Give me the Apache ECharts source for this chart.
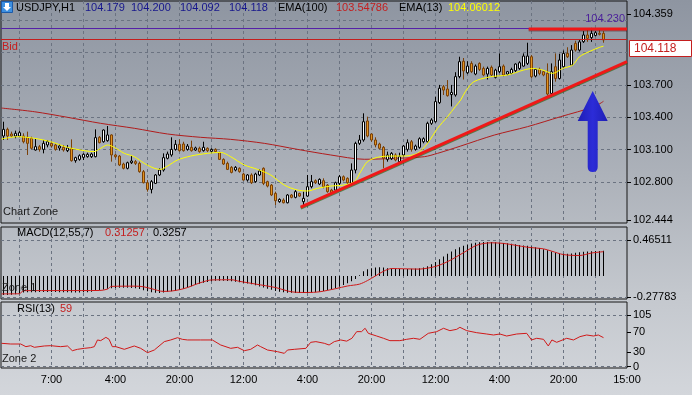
<!DOCTYPE html>
<html><head><meta charset="utf-8">
<script src="https://cdn.jsdelivr.net/npm/echarts@6/dist/echarts.min.js"></script>
<style>
html,body{margin:0;padding:0;}
body{width:692px;height:395px;overflow:hidden;background:linear-gradient(180deg,#8e95a1 0%,#adb2ba 45%,#c4c8ce 75%,#d3d6db 100%);}
#c{width:692px;height:395px;}
</style></head><body><div id="c"></div>
<script>
// ---- DATA ----
// candles: [open, close, low, high], one row per hourly bar
const candles = [
[103.225,103.287,103.188,103.358],[103.287,103.225,103.188,103.303],[103.244,103.225,103.213,103.266],[103.225,103.250,103.204,103.275],
[103.225,103.256,103.213,103.275],[103.225,103.172,103.157,103.250],[103.213,103.157,103.049,103.266],[103.204,103.111,103.101,103.219],
[103.095,103.126,103.089,103.204],[103.126,103.101,103.080,103.142],[103.101,103.157,103.064,103.188],[103.142,103.172,103.120,103.188],
[103.157,103.132,103.120,103.172],[103.142,103.101,103.089,103.157],[103.114,103.132,103.089,103.151],[103.120,103.095,103.080,103.142],
[103.089,103.114,103.076,103.142],[103.111,102.996,102.987,103.194],[102.996,103.024,102.977,103.033],[103.008,103.042,102.996,103.055],
[103.027,103.055,103.002,103.064],[103.033,103.055,103.024,103.070],[103.033,103.058,103.021,103.070],[103.033,103.210,103.027,103.287],
[103.213,103.163,103.157,103.225],[103.172,103.281,103.163,103.287],[103.182,103.235,103.172,103.318],[103.235,103.049,102.987,103.241],
[103.049,103.033,103.018,103.058],[103.039,102.956,102.946,103.049],[102.965,102.925,102.915,102.977],[102.925,102.977,102.915,102.987],
[102.977,102.993,102.965,103.042],[102.987,102.971,102.956,103.002],[102.971,102.894,102.884,102.987],[102.894,102.791,102.785,102.909],
[102.791,102.729,102.708,102.816],[102.729,102.801,102.692,102.816],[102.785,102.863,102.779,102.872],[102.863,102.909,102.853,102.925],
[102.909,103.024,102.894,103.064],[103.018,103.058,103.008,103.080],[103.049,103.101,103.033,103.213],[103.101,103.148,103.089,103.188],
[103.148,103.089,103.080,103.194],[103.151,103.089,103.080,103.172],[103.101,103.132,103.089,103.151],[103.120,103.089,103.080,103.182],
[103.095,103.114,103.086,103.126],[103.111,103.080,103.070,103.126],[103.089,103.120,103.080,103.172],[103.111,103.089,103.076,103.120],
[103.083,103.101,103.070,103.111],[103.101,103.080,103.070,103.111],[103.070,103.008,103.002,103.080],[103.008,102.965,102.956,103.018],
[102.971,102.915,102.909,102.987],[102.934,102.887,102.878,102.946],[102.909,102.934,102.897,102.946],[102.925,102.894,102.884,102.934],
[102.872,102.816,102.810,102.884],[102.816,102.863,102.801,102.872],[102.863,102.791,102.779,102.878],[102.801,102.872,102.791,102.884],
[102.863,102.900,102.853,102.915],[102.925,102.785,102.769,102.934],[102.801,102.760,102.748,102.810],[102.769,102.677,102.667,102.779],
[102.692,102.624,102.584,102.708],[102.615,102.636,102.605,102.646],[102.630,102.605,102.599,102.646],[102.605,102.677,102.599,102.686],
[102.677,102.655,102.646,102.686],[102.655,102.708,102.646,102.723],[102.692,102.667,102.661,102.698],[102.615,102.646,102.568,102.708],
[102.667,102.754,102.661,102.863],[102.754,102.801,102.739,102.863],[102.810,102.791,102.779,102.822],[102.779,102.822,102.769,102.832],
[102.810,102.754,102.739,102.832],[102.769,102.708,102.698,102.779],[102.723,102.692,102.686,102.735],[102.723,102.791,102.708,102.801],
[102.785,102.847,102.769,102.863],[102.847,102.816,102.804,102.859],[102.832,102.791,102.779,102.841],[102.785,102.909,102.779,102.971],
[102.909,103.157,102.878,103.172],[103.157,103.188,103.142,103.235],[103.188,103.358,103.172,103.436],[103.365,103.225,103.213,103.405],
[103.244,103.188,103.172,103.250],[103.188,103.142,103.120,103.213],[103.151,103.111,103.101,103.163],[103.120,103.018,102.925,103.132],
[103.008,103.049,102.987,103.080],[103.014,103.064,103.002,103.076],[103.049,103.002,102.990,103.064],[102.987,103.033,102.971,103.070],
[103.049,103.132,103.033,103.142],[103.101,103.163,103.080,103.194],[103.172,103.101,103.080,103.188],[103.101,103.132,103.089,103.145],
[103.120,103.200,103.107,103.213],[103.172,103.200,103.157,103.213],[103.172,103.343,103.163,103.358],[103.343,103.374,103.328,103.390],
[103.358,103.545,103.349,103.591],[103.535,103.669,103.523,103.700],[103.683,103.652,103.606,103.699],[103.662,103.600,103.591,103.745],
[103.610,103.630,103.500,103.700],[103.606,103.777,103.591,103.818],[103.777,103.916,103.762,103.962],[103.920,103.830,103.750,103.950],
[103.813,103.875,103.800,103.920],[103.900,103.823,103.810,103.920],[103.801,103.875,103.790,103.890],[103.900,103.844,103.830,103.910],
[103.853,103.792,103.780,103.870],[103.801,103.853,103.750,103.870],[103.863,103.792,103.780,103.880],[103.770,103.838,103.760,103.850],
[103.823,103.869,103.810,103.993],[103.875,103.792,103.780,103.890],[103.801,103.823,103.790,103.830],[103.807,103.844,103.800,103.860],
[103.832,103.894,103.820,103.900],[103.853,103.906,103.840,103.920],[103.875,103.968,103.870,103.993],[103.900,103.968,103.885,104.092],
[103.962,103.776,103.760,103.978],[103.782,103.844,103.770,103.850],[103.844,103.807,103.790,103.860],[103.823,103.792,103.780,103.830],
[103.807,103.615,103.600,103.900],[103.621,103.823,103.610,103.900],[103.869,103.760,103.730,103.993],[103.760,103.931,103.750,103.990],
[103.869,103.993,103.860,104.020],[103.993,103.962,103.950,104.050],[103.885,104.024,103.880,104.070],[104.086,104.024,104.010,104.110],
[104.024,104.100,104.010,104.120],[104.102,104.164,104.090,104.200],[104.164,104.133,104.100,104.210],[104.140,104.179,104.100,104.230],
[104.160,104.185,104.150,104.200],[104.180,104.170,104.160,104.210],[104.179,104.118,104.092,104.200]
];
// EMA lines: [bar, value] points
const ema100 = [[-0.5,103.485],[7.7,103.451],[16,103.399],[24.3,103.343],[32.7,103.297],[41,103.244],[49.3,103.213],[56.8,103.194],[65.2,103.157],[73.5,103.101],[81.8,103.049],[90.2,103.009],[98.5,103.018],[105.2,103.033],[108.5,103.064],[114.3,103.132],[122.7,103.234],[131,103.312],[139.3,103.405],[147.7,103.498],[150,103.548]];
const ema13 = [[-0.5,103.197],[3.5,103.219],[7.7,103.204],[11.8,103.172],[16,103.120],[20.2,103.089],[22.6,103.080],[24.3,103.111],[26,103.142],[27.7,103.120],[30.2,103.064],[32.7,103.033],[35.2,102.971],[37.7,102.925],[39.3,102.915],[41,102.946],[43.5,103.002],[46.8,103.039],[51,103.064],[54.3,103.073],[56.8,103.033],[60.2,102.956],[63.5,102.915],[66.8,102.863],[70.2,102.769],[73.5,102.723],[76,102.714],[78.5,102.739],[81.8,102.760],[85,102.769],[87.7,102.801],[89.3,102.894],[91,102.987],[93.5,103.027],[96.8,103.039],[100,103.039],[103.5,103.064],[106,103.157],[108.5,103.296],[111,103.405],[113,103.500],[114.3,103.560],[115.5,103.640],[117.6,103.730],[121.8,103.776],[126,103.792],[130,103.838],[132.3,103.853],[134.8,103.838],[137.3,103.807],[139.8,103.853],[142.3,103.884],[144,103.962],[146.4,104.009],[149,104.049],[150,104.060]];
// MACD histogram, one value per bar
const macdHist = [-0.245,-0.245,-0.243,-0.238,-0.225,-0.215,-0.212,-0.210,-0.210,-0.208,-0.208,-0.207,-0.207,-0.208,-0.210,-0.210,-0.212,-0.214,-0.214,-0.213,
-0.212,-0.210,-0.205,-0.195,-0.185,-0.175,-0.165,-0.158,-0.155,-0.153,-0.152,-0.152,-0.155,-0.160,-0.170,-0.185,-0.198,-0.210,-0.218,-0.220,
-0.215,-0.205,-0.198,-0.192,-0.180,-0.165,-0.150,-0.132,-0.115,-0.100,-0.088,-0.078,-0.070,-0.064,-0.062,-0.062,-0.065,-0.070,-0.076,-0.083,
-0.090,-0.098,-0.108,-0.120,-0.135,-0.150,-0.165,-0.180,-0.195,-0.205,-0.212,-0.216,-0.218,-0.220,-0.222,-0.222,-0.220,-0.216,-0.210,-0.203,
-0.195,-0.186,-0.175,-0.160,-0.140,-0.118,-0.095,-0.070,-0.040,0.010,0.060,0.085,0.100,0.110,0.112,0.108,0.100,0.095,0.092,0.090,
0.090,0.090,0.092,0.095,0.100,0.108,0.125,0.150,0.180,0.215,0.250,0.285,0.315,0.345,0.370,0.390,0.405,0.418,0.428,0.433,
0.436,0.437,0.436,0.434,0.430,0.425,0.420,0.414,0.408,0.400,0.393,0.388,0.380,0.371,0.360,0.345,0.330,0.315,0.300,0.290,
0.285,0.285,0.290,0.298,0.305,0.312,0.316,0.318,0.320,0.322,0.3257];
const macdSignal = [[-0.5,-0.232],[4,-0.230],[5,-0.190],[24,-0.188],[26,-0.170],[27,-0.135],[33,-0.132],[35,-0.140],[37,-0.165],[40,-0.200],[42,-0.195],[44,-0.178],[46,-0.150],[48,-0.110],[50,-0.075],[52,-0.052],[57,-0.050],[59,-0.070],[63,-0.105],[68,-0.150],[72,-0.205],[76,-0.214],[79,-0.205],[83,-0.165],[86,-0.130],[89,-0.106],[91,-0.060],[93,0.000],[95,0.060],[97,0.095],[100,0.092],[104,0.088],[106,0.100],[108,0.122],[110,0.160],[112,0.210],[114,0.270],[116,0.330],[118,0.390],[120,0.418],[122,0.427],[125,0.419],[128,0.395],[131,0.370],[135,0.349],[137,0.320],[140,0.275],[144,0.263],[147,0.295],[150,0.3126]];
const rsi = [[-0.5,47.5],[1.8,46.1],[4.3,46.1],[5.6,40.7],[6.8,42.7],[7.7,39.4],[10.2,42.1],[11.8,42.7],[14.3,40.7],[16,42.1],[17.2,32.5],[18.5,35.3],[20.2,37.3],[21.8,38.7],[22.7,40.7],[23.5,54.3],[24.3,52.9],[25.6,59.6],[26.4,55.6],[27.2,40.7],[28.1,40.7],[30.2,35.3],[32.7,42.1],[34.3,37.3],[36,28.5],[37.7,33.9],[40.2,50.9],[41.8,54.3],[43.5,58.9],[44.7,55.6],[46,54.3],[49.3,54.3],[52.2,54.3],[54.3,44.1],[56.8,37.3],[58.5,39.4],[60.2,32.5],[61.8,35.3],[63.5,44.1],[64.3,40.7],[66,33.9],[68.5,30.5],[70.2,27.1],[71,33.9],[72.7,35.3],[75.6,37.3],[76.8,49.5],[78.1,50.9],[80.2,47.5],[81.4,44.1],[82.7,50.9],[84.3,54.3],[85.8,51.9],[87.1,57.7],[88.3,71.2],[89.5,71.2],[90.4,78],[91.2,67.8],[93.3,62.3],[95,57.7],[96.6,52.9],[99.1,52.9],[100.8,55.6],[102.5,57.7],[104.1,55.6],[106.2,67.8],[108.3,71.2],[110,78],[111.6,73.2],[113.3,75.9],[114.1,80],[115.8,73.2],[118.3,69.1],[120.8,66.4],[122.5,64.4],[124.1,66.4],[125.8,62.3],[128.3,66.4],[130.8,67.8],[132,54.3],[133.3,57.7],[135,55.6],[136.2,42.1],[137.1,54.3],[138.3,49.5],[140.8,57.7],[142.5,54.3],[144.1,61],[145.8,64.4],[147.5,62.3],[148.7,64.4],[150,59]];
// annotations
const bidPrice = 104.118;
const topPrice = 104.230;
const trendLine = [[74.3,102.565],[155.875,103.916]];
const resistanceLine = [[131.3,104.22],[155.875,104.22]];
const arrowPoint = [[147.3,103.267]];
// axis ticks / labels
const timeLabels = ['7:00','4:00','20:00','12:00','4:00','20:00','12:00','4:00','20:00','15:00'];
const timeLabelBars = [12,28,44,60,76,92,108,124,140,156];
const gridBars = [4,12,20,28,36,44,52,60,68,76,84,92,100,108,116,124,132,140,148];
const priceLabels = [102.444,102.8,103.1,103.4,103.7,104.359];
const priceGrid = [102.8,103.1,103.4,103.7,104.0,104.3];
const macdLabels = [-0.27783,0.46511];
const rsiLabels = [0,30,70,105];
const rsiGrid = [0,105];
// header texts
const symbolName = 'USDJPY,H1';
const quote = ['104.179','104.200','104.092','104.118'];
const ema100Text = ['EMA(100)','103.54786'];
const ema13Text = ['EMA(13)','104.06012'];
const macdText = ['MACD(12,55,7)','0.31257','0.3257'];
const rsiText = ['RSI(13)','59'];

// ---- CHART ----
const FONT = "'Liberation Sans', Arial, sans-serif";
const X_MIN = -0.625, X_MAX = 155.875;
const gridColor = '#6b7381';
const dash = {color: gridColor, width: 1, type: [3, 3]};
const chart = echarts.init(document.getElementById('c'), null, {renderer: 'canvas'});

function xAx(k) {
  return {
    type: 'value', gridIndex: k, min: X_MIN, max: X_MAX,
    axisLine: {show: false},
    axisTick: {show: false, customValues: gridBars},
    axisLabel: k === 2 ? {
      show: true, customValues: timeLabelBars.map(v => Math.min(v, X_MAX)), margin: 6,
      color: '#000', fontSize: 11, fontFamily: FONT,
      formatter: v => timeLabels[timeLabelBars.indexOf(Math.round(v))] || ''
    } : {show: false},
    splitLine: {show: true, lineStyle: dash}
  };
}
function yAx(k, min, max, gridVals, labelVals, fmt) {
  return [{
    type: 'value', gridIndex: k, position: 'right', min, max,
    axisLine: {show: false}, axisLabel: {show: false},
    axisTick: {show: false, customValues: gridVals},
    splitLine: {show: true, lineStyle: dash}
  }, {
    type: 'value', gridIndex: k, position: 'right', min, max,
    axisLine: {show: false},
    axisTick: {show: true, length: 4, inside: false, customValues: labelVals, lineStyle: {color: '#000'}},
    axisLabel: {show: true, customValues: labelVals, formatter: fmt, margin: 6, color: '#000', fontSize: 11, fontFamily: FONT},
    splitLine: {show: false}
  }];
}

const gridCommon = {show: true, backgroundColor: 'transparent', borderColor: '#161616', borderWidth: 1, containLabel: false, outerBoundsMode: 'none'};

const txt = (text, x, y, fill, size, align) => ({
  type: 'text', x, y, silent: true, z: 100,
  style: {text, fill, font: (size || 11) + 'px ' + FONT, verticalAlign: 'middle', align: align || 'left'}
});

const option = {
  animation: false,
  backgroundColor: 'transparent',
  grid: [
    Object.assign({left: 1, top: 1, width: 626, height: 222}, gridCommon),
    Object.assign({left: 1, top: 227, width: 626, height: 72}, gridCommon),
    Object.assign({left: 1, top: 302, width: 626, height: 66}, gridCommon)
  ],
  xAxis: [xAx(0), xAx(1), xAx(2)],
  yAxis: [].concat(
    yAx(0, 102.4168, 104.4798, priceGrid, priceLabels, v => v.toFixed(3)),
    yAx(1, -0.2978, 0.6307, macdLabels, macdLabels, v => v.toFixed(5)),
    yAx(2, -2.64, 131.4, rsiGrid, rsiLabels, v => String(Math.round(v)))
  ),
  series: [
    {
      type: 'candlestick', xAxisIndex: 0, yAxisIndex: 1,
      data: candles.map((r, i) => [i, r[0], r[1], r[2], r[3]]),
      barWidth: 2,
      itemStyle: {color: '#ffffff', color0: '#e29420', borderColor: '#000000', borderColor0: '#7a4008', borderWidth: 1},
      markLine: {
        silent: true, symbol: 'none', label: {show: false}, animation: false,
        data: [
          {yAxis: topPrice, lineStyle: {color: '#5521a8', width: 1, type: 'solid'}},
          {yAxis: bidPrice, lineStyle: {color: '#c41e1e', width: 1, type: 'solid'}}
        ]
      },
      z: 3
    },
    {type: 'line', xAxisIndex: 0, yAxisIndex: 1, data: ema100, showSymbol: false, smooth: 0.3,
      lineStyle: {color: '#b01c1c', width: 1}, z: 2},
    {type: 'line', xAxisIndex: 0, yAxisIndex: 1, data: ema13, showSymbol: false, smooth: 0.3,
      lineStyle: {color: '#ffff00', width: 1}, z: 4},
    {type: 'line', xAxisIndex: 0, yAxisIndex: 1, data: trendLine, showSymbol: false,
      lineStyle: {color: '#f01818', width: 3, shadowColor: 'rgba(30,90,0,0.6)', shadowOffsetY: 1}, z: 5},
    {type: 'line', xAxisIndex: 0, yAxisIndex: 1, data: resistanceLine, showSymbol: false,
      lineStyle: {color: '#f01818', width: 3, shadowColor: 'rgba(60,0,0,0.4)', shadowOffsetY: 1}, z: 5},
    {type: 'scatter', xAxisIndex: 0, yAxisIndex: 1, data: arrowPoint,
      symbol: 'path://M15,0 L30,30 L20,30 L20,76 Q20,81 15,81 Q10,81 10,76 L10,30 L0,30 Z',
      symbolSize: [30, 81], symbolKeepAspect: false,
      itemStyle: {opacity: 1, color: new echarts.graphic.LinearGradient(0, 0, 1, 0, [
        {offset: 0, color: '#1e1eb4'}, {offset: 0.5, color: '#2c2cd8'}, {offset: 1, color: '#1e1eb4'}])}, z: 6},
    {type: 'bar', xAxisIndex: 1, yAxisIndex: 3, data: macdHist.map((v, i) => [i, v]), barWidth: 1,
      itemStyle: {color: '#000000'}, z: 2},
    {type: 'line', xAxisIndex: 1, yAxisIndex: 3, data: macdSignal, showSymbol: false, smooth: 0.3,
      lineStyle: {color: '#d01818', width: 1}, z: 3},
    {type: 'line', xAxisIndex: 2, yAxisIndex: 5, data: rsi, showSymbol: false,
      lineStyle: {color: '#d01818', width: 1}, z: 3}
  ],
  graphic: [
    {type: 'rect', shape: {x: 1.5, y: 1.5, width: 11, height: 11}, style: {fill: '#3d8fe0', stroke: '#1d5aa8', lineWidth: 1}, z: 100},
    {type: 'polygon', shape: {points: [[5, 3], [9, 3], [9, 7], [11, 7], [7, 11], [3, 7], [5, 7]]}, style: {fill: '#ffffff'}, z: 101},
    txt(symbolName, 16, 8, '#000'),
    txt(quote[0], 85, 8, '#16168c'),
    txt(quote[1], 131, 8, '#16168c'),
    txt(quote[2], 180, 8, '#16168c'),
    txt(quote[3], 229, 8, '#16168c'),
    txt(ema100Text[0], 278, 8, '#000'),
    txt(ema100Text[1], 336, 8, '#c41e1e'),
    txt(ema13Text[0], 399, 8, '#000'),
    txt(ema13Text[1], 448, 8, '#ffff00'),
    txt(topPrice.toFixed(3), 625, 19, '#4a1f9a', 11, 'right'),
    txt('Bid', 2, 47, '#c41e1e'),
    {type: 'rect', shape: {x: 629.5, y: 40.5, width: 62, height: 16}, style: {fill: '#ffffff', stroke: '#c41e1e', lineWidth: 1}, z: 100},
    txt(bidPrice.toFixed(3), 634, 49, '#c41e1e', 12),
    txt('Chart Zone', 3, 212, '#1a1a1a'),
    txt(macdText[0], 17, 233, '#000'),
    txt(macdText[1], 105, 233, '#c41e1e'),
    txt(macdText[2], 153, 233, '#000'),
    txt('Zone 1', 2, 288, '#1a1a1a'),
    txt(rsiText[0], 17, 309, '#000'),
    txt(rsiText[1], 60, 309, '#c41e1e'),
    txt('Zone 2', 2, 359, '#1a1a1a')
  ]
};
chart.setOption(option);
</script></body></html>
